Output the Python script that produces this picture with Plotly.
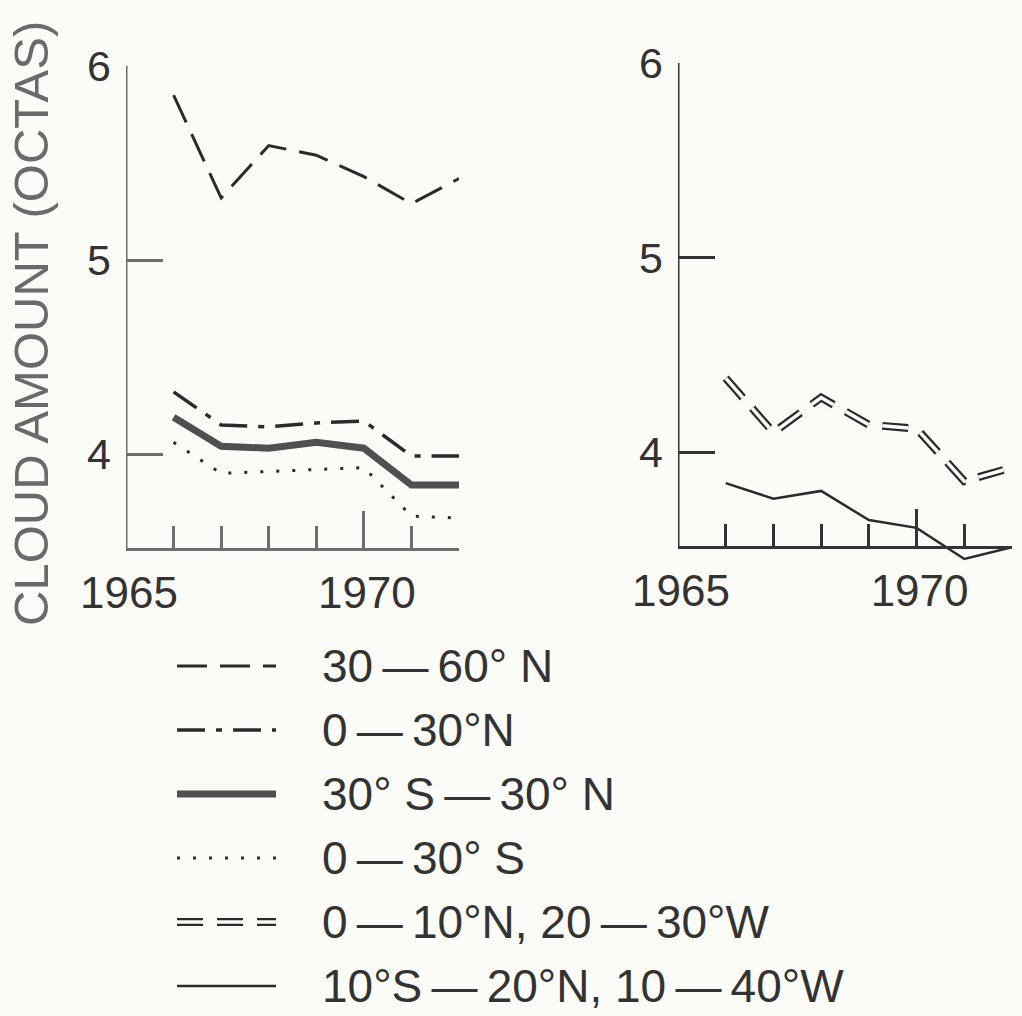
import plotly.graph_objects as go

W, H = 1022, 1016

# ---- data -------------------------------------------------------------
years = [1966, 1967, 1968, 1969, 1970, 1971, 1972]

# zonal means (left panel)
lat_30_60n = [5.85, 5.32, 5.59, 5.54, 5.43, 5.29, 5.42]
lat_0_30n = [4.32, 4.15, 4.14, 4.16, 4.17, 3.99, 3.99]
lat_30s_30n = [4.19, 4.04, 4.03, 4.06, 4.03, 3.84, 3.84]
lat_0_30s = [4.06, 3.90, 3.91, 3.92, 3.93, 3.68, 3.67]

# Atlantic boxes (right panel)
box_0_10n_20_30w = [4.38, 4.10, 4.28, 4.14, 4.12, 3.85, 3.92]
box_10s_20n_10_40w = [3.84, 3.76, 3.80, 3.65, 3.61, 3.45, 3.51]

series_names = [
    "30\u2009\u2014\u200960° N",
    "0\u2009\u2014\u200930°N",
    "30° S\u2009\u2014\u200930° N",
    "0\u2009\u2014\u200930° S",
    "0\u2009\u2014\u200910°N, 20\u2009\u2014\u200930°W",
    "10°S\u2009\u2014\u200920°N, 10\u2009\u2014\u200940°W",
]

y_tick_vals = [4, 5, 6]
x_label_vals = [1965, 1970]
x_label_text = ["1965", "1970"]
x_minor_vals = [1966, 1967, 1968, 1969, 1971, 1972]
y_title = "CLOUD AMOUNT (OCTAS)"

# ---- styling ------------------------------------------------------------
BG = "#fbfcf8"
INK = "#2b2b2b"
FONT = "Liberation Sans"
Y_LOW, Y_HIGH, Y_BASE = 3.38, 6.0, 3.51
X_LOW, X_HIGH = 1965, 1972

styles = [
    [dict(color=INK, width=3, dash="30px,13px")],
    [dict(color=INK, width=3.5, dash="28px,11px,6px,11px")],
    [dict(color="#505050", width=7)],
    [dict(color=INK, width=3, dash="3px,13px")],
    [dict(color=INK, width=8, dash="26px,14px"),
     dict(color=BG, width=3.5, dash="26px,14px")],
    [dict(color=INK, width=2.5)],
]

panel_series = {
    "left": [(0, lat_30_60n), (1, lat_0_30n), (2, lat_30s_30n), (3, lat_0_30s)],
    "right": [(4, box_0_10n_20_30w), (5, box_10s_20n_10_40w)],
}

# pixel geometry of the two panels: x-range ends and y position of the top tick
panels = {
    "left": dict(xa="x", ya="y", x0=126, x1=459, ytop=66, ppu=194.0,
                 axcolor="#6e6e6e"),
    "right": dict(xa="x2", ya="y2", x0=678, x1=1012, ytop=63, ppu=194.5,
                  axcolor="#333333"),
}

fig = go.Figure()
layout = dict(
    width=W, height=H,
    margin=dict(l=0, r=0, t=0, b=0, pad=0, autoexpand=False),
    paper_bgcolor=BG, plot_bgcolor=BG,
    showlegend=False,
    font=dict(family=FONT, color="#333333"),
)
shapes = []
annotations = []

for key, p in panels.items():
    ytop_px = p["ytop"]
    ybot_px = ytop_px + (Y_HIGH - Y_LOW) * p["ppu"]
    dom_lo = 1 - ybot_px / H
    dom_hi = 1 - ytop_px / H
    base_pos = dom_lo + (Y_BASE - Y_LOW) / (Y_HIGH - Y_LOW) * (dom_hi - dom_lo)

    xname = "xaxis" if p["xa"] == "x" else "xaxis2"
    yname = "yaxis" if p["ya"] == "y" else "yaxis2"

    layout[xname] = dict(
        domain=[p["x0"] / W, p["x1"] / W],
        range=[X_LOW, X_HIGH],
        anchor="free", position=base_pos, automargin=False,
        showline=True, linecolor=p["axcolor"], linewidth=3,
        showgrid=False, zeroline=False,
        tickmode="array", tickvals=x_label_vals, ticktext=x_label_text,
        ticks="inside", ticklen=37, tickwidth=3, tickcolor=p["axcolor"],
        minor=dict(tickmode="array", tickvals=x_minor_vals, ticks="inside",
                   ticklen=22, tickwidth=3, tickcolor=p["axcolor"],
                   showgrid=False),
        tickfont=dict(family=FONT, size=44, color="#333333"),
        ticklabelstandoff=4, ticklabelshift=3,
        fixedrange=True,
    )
    layout[yname] = dict(
        domain=[dom_lo, dom_hi],
        range=[Y_LOW, Y_HIGH],
        anchor=p["xa"], automargin=False,
        showline=False, showgrid=False, zeroline=False,
        tickmode="array", tickvals=y_tick_vals,
        ticks="inside", ticklen=37, tickwidth=3, tickcolor=p["axcolor"],
        tickfont=dict(family=FONT, size=43, color="#333333"),
        ticklabelstandoff=14,
        fixedrange=True,
    )
    # vertical spine stops at the baseline
    shapes.append(dict(type="line", xref=p["xa"], yref=p["ya"],
                       x0=X_LOW, x1=X_LOW, y0=Y_BASE, y1=Y_HIGH,
                       line=dict(color=p["axcolor"], width=3)))

    for idx, vals in panel_series[key]:
        for ln in styles[idx]:
            fig.add_trace(go.Scatter(
                x=years, y=vals, mode="lines", line=ln,
                xaxis=p["xa"], yaxis=p["ya"], hoverinfo="skip",
                name=series_names[idx],
            ))

# ---- key below the panels ------------------------------------------------
row_top, row_step = 666, 64
key_top_px = row_top - 0.25 * row_step
key_bot_px = row_top + 5.25 * row_step
layout["xaxis3"] = dict(domain=[177 / W, 276 / W], range=[0, 1],
                        visible=False, fixedrange=True, automargin=False)
layout["yaxis3"] = dict(domain=[1 - key_bot_px / H, 1 - key_top_px / H],
                        range=[5.25, -0.25], visible=False, anchor="x3",
                        fixedrange=True, automargin=False)

for i, name in enumerate(series_names):
    for ln in styles[i]:
        fig.add_trace(go.Scatter(
            x=[0, 1], y=[i, i], mode="lines", line=ln,
            xaxis="x3", yaxis="y3", hoverinfo="skip",
        ))
    annotations.append(dict(
        xref="paper", yref="y3", x=320 / W, y=i, text=name,
        xanchor="left", yanchor="middle", showarrow=False,
        font=dict(family=FONT, size=46, color="#333333"),
    ))

annotations.append(dict(
    xref="paper", yref="paper", x=31 / W, y=1 - 324 / H, text=y_title,
    textangle=-90, xanchor="center", yanchor="middle", showarrow=False,
    font=dict(family=FONT, size=49, color="#6a6a6a"),
))

layout["shapes"] = shapes
layout["annotations"] = annotations
fig.update_layout(**layout)

fig.write_html("out.html", config=dict(displayModeBar=False))
